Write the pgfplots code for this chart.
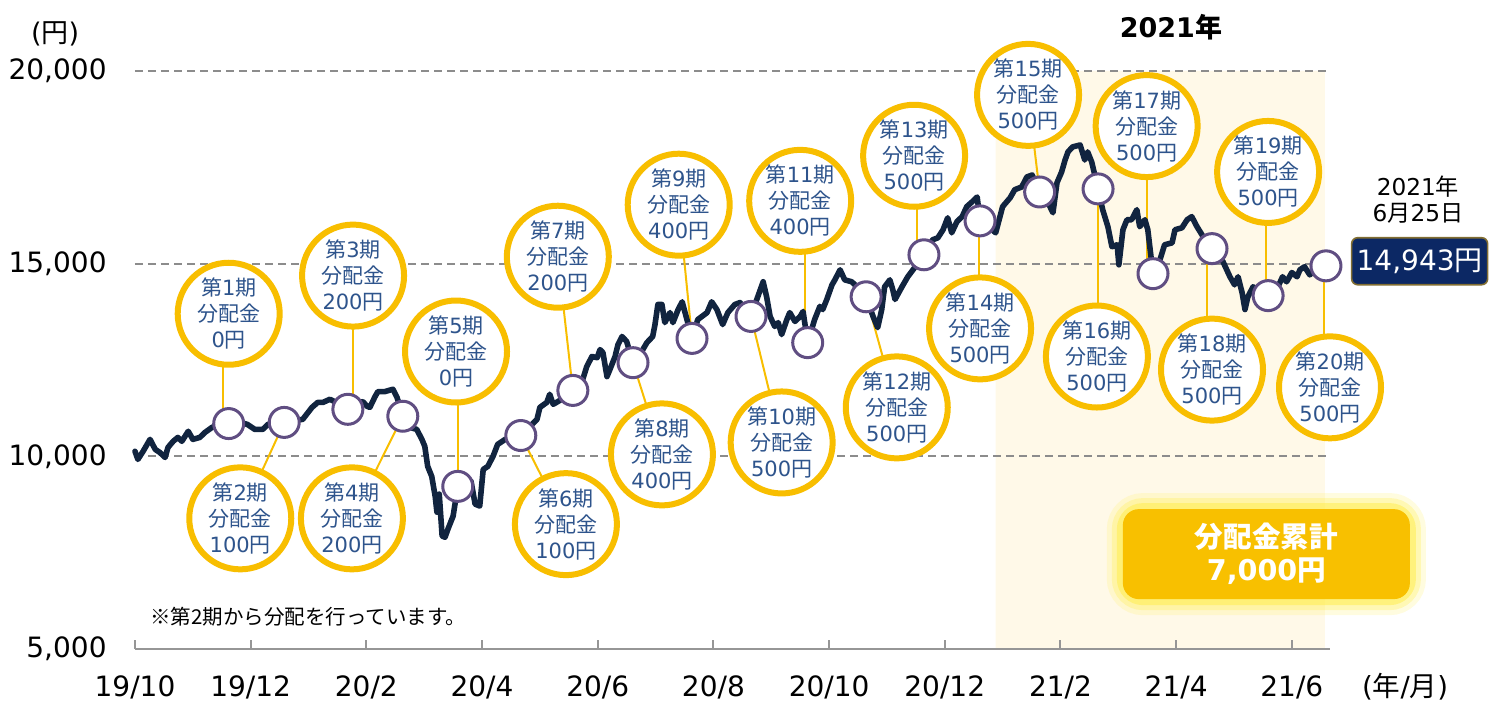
\documentclass[border=0pt]{standalone}
\usepackage{pgfplots}
\pgfplotsset{compat=1.18}
\usepackage{fontspec}
\setmainfont{DejaVu Sans}
\newfontfamily\jp{Noto Sans CJK JP}
\definecolor{navyline}{RGB}{17,36,63}
\definecolor{purp}{RGB}{96,78,130}
\definecolor{gold}{RGB}{248,190,0}
\definecolor{bubtext}{RGB}{46,84,140}
\definecolor{shade}{RGB}{255,249,232}
\definecolor{gridgray}{RGB}{140,140,140}
\definecolor{axisgray}{RGB}{150,150,150}
\definecolor{boxnavy}{RGB}{12,40,100}
\definecolor{boxedge}{RGB}{130,110,50}
\definecolor{glow}{RGB}{255,238,80}
\definecolor{sumbox}{RGB}{248,192,0}
\newcommand{\bub}[2]{{\jp 第}#1{\jp 期}\\{\jp 分配金}\\#2{\jp 円}}
\tikzset{bubble/.style={circle, draw=gold, line width=3pt, fill=white, minimum size=51pt, inner sep=0pt,
  text=bubtext, align=center, font=\fontsize{10.5}{13}\selectfont}}
\begin{document}
\begin{tikzpicture}
\begin{axis}[
 at={(0pt,0pt)}, anchor=south west,
 scale only axis, width=597.5pt, height=289pt,
 xmin=0, xmax=20.66, ymin=5000, ymax=20000,
 clip=false, set layers,
 scaled y ticks=false,
 axis lines*=left,
 y axis line style={draw=none},
 x axis line style={draw=axisgray, line width=1pt},
 tick align=inside, major tick length=4.5pt,
 xtick={0,2,...,20},
 xticklabels={19/10,19/12,20/2,20/4,20/6,20/8,20/10,20/12,21/2,21/4,21/6},
 ytick={5000,10000,15000,20000},
 yticklabels={{5,000},{10,000},{15,000},{20,000}},
 xtick style={draw=axisgray, line width=1pt},
 ytick style={draw=none},
 ymajorgrids,
 grid style={draw=gridgray, line width=1pt, dash pattern=on 4pt off 2.5pt},
 ticklabel style={font=\fontsize{14}{16}\selectfont, inner sep=0pt, text=black},
 xticklabel style={anchor=base, yshift=-24pt},
 yticklabel style={anchor=east, xshift=-14pt},
]
% 2021 shaded period
\addplot[fill=shade, draw=none, on layer=axis background] coordinates {(14.88,5000) (14.88,20000) (20.57,20000) (20.57,5000) (14.88,5000)};

% connectors
\addplot[gold, line width=1pt] coordinates {(1.52,13700) (1.52,10850)};
\addplot[gold, line width=1pt] coordinates {(1.82,8390) (2.58,10880)};
\addplot[gold, line width=1pt] coordinates {(3.77,14690) (3.77,11220)};
\addplot[gold, line width=1pt] coordinates {(3.75,8390) (4.63,11040)};
\addplot[gold, line width=1pt] coordinates {(5.58,12720) (5.58,9220)};
\addplot[gold, line width=1pt] coordinates {(7.45,8240) (6.67,10540)};
\addplot[gold, line width=1pt] coordinates {(7.31,15180) (7.57,11710)};
\addplot[gold, line width=1pt] coordinates {(9.11,10050) (8.61,12430)};
\addplot[gold, line width=1pt] coordinates {(9.40,16530) (9.63,13060)};
\addplot[gold, line width=1pt] coordinates {(11.18,10360) (10.65,13630)};
\addplot[gold, line width=1pt] coordinates {(11.58,16630) (11.58,12950)};
\addplot[gold, line width=1pt] coordinates {(13.17,11270) (12.64,14140)};
\addplot[gold, line width=1pt] coordinates {(13.52,17800) (13.52,15230)};
\addplot[gold, line width=1pt] coordinates {(14.59,13320) (14.59,16110)};
\addplot[gold, line width=1pt] coordinates {(15.44,19380) (15.64,16860)};
\addplot[gold, line width=1pt] coordinates {(16.65,12590) (16.65,16940)};
\addplot[gold, line width=1pt] coordinates {(17.49,18570) (17.49,14740)};
\addplot[gold, line width=1pt] coordinates {(18.53,12250) (18.53,15390)};
\addplot[gold, line width=1pt] coordinates {(19.55,17380) (19.55,14170)};
\addplot[gold, line width=1pt] coordinates {(20.55,11790) (20.55,14943)};

% NAV line
\addplot[navyline, line width=2.8pt, line join=round, line cap=round] coordinates {
(0.00,10130) (0.05,9920) (0.14,10130) (0.26,10440) (0.35,10180) (0.43,10100) (0.52,9970) (0.57,10230)
(0.66,10390) (0.74,10490) (0.81,10390) (0.92,10650) (1.00,10440) (1.12,10490) (1.21,10620) (1.33,10750)
(1.47,10830) (1.62,10850) (1.82,10880) (1.94,10830) (2.07,10700) (2.21,10700) (2.30,10830) (2.44,10880)
(2.58,10880) (2.77,10930) (2.90,10960) (3.06,11270) (3.16,11400) (3.25,11400) (3.37,11480) (3.54,11350)
(3.68,11220) (3.82,11370) (3.94,11420) (4.01,11300) (4.06,11270) (4.15,11550) (4.20,11680) (4.32,11680)
(4.46,11740) (4.53,11530) (4.63,11040) (4.75,10750) (4.87,10700) (4.96,10440) (5.01,10260) (5.06,9740)
(5.13,9480) (5.19,8960) (5.22,8550) (5.26,9020) (5.31,7930) (5.36,7900) (5.41,8110) (5.50,8450)
(5.58,9220) (5.70,9350) (5.81,9350) (5.88,8760) (5.96,8710) (6.02,9660) (6.10,9740) (6.19,10000)
(6.27,10310) (6.40,10440) (6.52,10440) (6.67,10540) (6.83,10780) (6.95,10960) (7.00,11270) (7.12,11400)
(7.17,11610) (7.23,11350) (7.31,11420) (7.43,11530) (7.57,11710) (7.74,11990) (7.81,12330) (7.90,12590)
(7.99,12560) (8.04,12770) (8.09,12690) (8.16,12070) (8.21,12250) (8.30,12590) (8.35,12900) (8.42,13110)
(8.50,12980) (8.61,12430) (8.76,12720) (8.85,12950) (8.95,13110) (8.99,13420) (9.04,13940) (9.11,13940)
(9.16,13470) (9.25,13730) (9.30,13470) (9.39,13810) (9.46,14010) (9.51,13730) (9.63,13060) (9.73,13550)
(9.89,13730) (9.97,14010) (10.06,13810) (10.16,13420) (10.25,13730) (10.37,13940) (10.46,13990) (10.54,13810)
(10.65,13630) (10.75,14070) (10.86,14530) (10.92,14140) (10.98,13630) (11.06,13370) (11.12,13470) (11.18,13160)
(11.27,13550) (11.32,13730) (11.41,13500) (11.50,13630) (11.55,13760) (11.63,12950) (11.75,13550) (11.84,13890)
(11.89,13810) (11.96,14070) (12.05,14450) (12.10,14580) (12.19,14840) (12.27,14580) (12.39,14530) (12.50,14380)
(12.64,14140) (12.76,13630) (12.84,13340) (12.91,13810) (12.96,14400) (13.05,14580) (13.10,14330) (13.14,14070)
(13.26,14400) (13.36,14660) (13.48,14900) (13.64,15230) (13.79,15620) (13.88,15670) (13.97,15880) (14.05,16190)
(14.12,15800) (14.21,16090) (14.30,16220) (14.38,16480) (14.47,16600) (14.56,16730) (14.61,16110) (14.78,15930)
(14.88,15800) (15.00,16480) (15.13,16710) (15.21,16920) (15.33,16990) (15.42,17250) (15.51,17300) (15.64,16860)
(15.76,16660) (15.87,16320) (15.94,17100) (16.02,17380) (16.08,17690) (16.13,17900) (16.21,18030) (16.34,18080)
(16.42,17690) (16.47,17900) (16.54,17640) (16.65,16940) (16.73,16400) (16.82,15960) (16.89,15440) (16.98,15490)
(17.01,14970) (17.08,15880) (17.15,16140) (17.23,16140) (17.32,16400) (17.37,15960) (17.46,16140) (17.51,15880)
(17.60,14740) (17.72,15100) (17.80,15490) (17.93,15540) (17.98,15880) (18.10,15930) (18.19,16140) (18.27,16220)
(18.36,15960) (18.50,15620) (18.62,15390) (18.81,15050) (18.93,14660) (19.01,14450) (19.07,14660) (19.14,14250)
(19.19,13810) (19.24,14140) (19.33,14400) (19.45,14270) (19.59,14170) (19.76,14400) (19.84,14660) (19.91,14530)
(20.00,14770) (20.09,14660) (20.14,14840) (20.22,14920) (20.31,14710) (20.45,14900) (20.59,14943)
};

% distribution dates
\addplot[only marks, mark=*, mark size=7.5pt, mark options={fill=white, draw=purp, line width=1.5pt}] coordinates {
(1.62,10850) (2.58,10880) (3.68,11220) (4.63,11040) (5.58,9220) (6.67,10540) (7.57,11710) (8.61,12430)
(9.63,13060) (10.65,13630) (11.63,12950) (12.64,14140) (13.64,15230) (14.61,16110) (15.64,16860) (16.65,16940)
(17.60,14740) (18.62,15390) (19.59,14170) (20.59,14943)};

% callout bubbles
\node[bubble] at (axis cs:1.62,13700) {\bub{1}{0}};
\node[bubble] at (axis cs:1.82,8390) {\bub{2}{100}};
\node[bubble] at (axis cs:3.77,14690) {\bub{3}{200}};
\node[bubble] at (axis cs:3.75,8390) {\bub{4}{200}};
\node[bubble] at (axis cs:5.55,12720) {\bub{5}{0}};
\node[bubble] at (axis cs:7.45,8240) {\bub{6}{100}};
\node[bubble] at (axis cs:7.31,15180) {\bub{7}{200}};
\node[bubble] at (axis cs:9.11,10050) {\bub{8}{400}};
\node[bubble] at (axis cs:9.40,16530) {\bub{9}{400}};
\node[bubble] at (axis cs:11.18,10360) {\bub{10}{500}};
\node[bubble] at (axis cs:11.50,16630) {\bub{11}{400}};
\node[bubble] at (axis cs:13.17,11270) {\bub{12}{500}};
\node[bubble] at (axis cs:13.47,17800) {\bub{13}{500}};
\node[bubble] at (axis cs:14.61,13320) {\bub{14}{500}};
\node[bubble] at (axis cs:15.44,19380) {\bub{15}{500}};
\node[bubble] at (axis cs:16.63,12590) {\bub{16}{500}};
\node[bubble] at (axis cs:17.49,18570) {\bub{17}{500}};
\node[bubble] at (axis cs:18.62,12250) {\bub{18}{500}};
\node[bubble] at (axis cs:19.59,17380) {\bub{19}{500}};
\node[bubble] at (axis cs:20.66,11790) {\bub{20}{500}};

% texts
\node[font=\fontsize{13.5}{16}\selectfont] at (axis cs:-1.38,20960) {({\jp 円})};
\node[font=\fontsize{13.8}{16}\selectfont, anchor=base] at (axis cs:21.96,3770) {({\jp 年}/{\jp 月})};
\node[font=\fontsize{13.5}{16}\selectfont\bfseries] at (axis cs:17.91,21137) {2021{\jp\bfseries 年}};
\node[font=\fontsize{11.6}{13}\selectfont, align=center] at (axis cs:22.18,16650) {2021{\jp 年}\\6{\jp 月}25{\jp 日}};
\node[fill=boxnavy, draw=boxedge, line width=0.8pt, rounded corners=3pt, minimum width=68pt, minimum height=23.5pt,
  inner sep=0pt, text=white, font=\fontsize{14}{16}\selectfont] at (axis cs:22.21,15063) {14,943{\jp 円}};
\node[font=\fontsize{10.25}{12}\selectfont, anchor=west] at (axis cs:0.14,5830) {\jp ※第2期から分配を行っています。};

% cumulative box with glow
\node[draw=glow, draw opacity=0.18, line width=16pt, rounded corners=10pt, minimum width=143.5pt, minimum height=45pt] at (axis cs:19.56,7462) {};
\node[draw=glow, draw opacity=0.3, line width=11pt, rounded corners=10pt, minimum width=143.5pt, minimum height=45pt] at (axis cs:19.56,7462) {};
\node[draw=glow, draw opacity=0.55, line width=6pt, rounded corners=10pt, minimum width=143.5pt, minimum height=45pt] at (axis cs:19.56,7462) {};
\node[fill=sumbox, rounded corners=8pt, minimum width=143.5pt, minimum height=45pt, inner sep=0pt, text=white,
  align=center, font=\fontsize{14.3}{16.5}\selectfont\bfseries] at (axis cs:19.56,7462)
  {{\jp\bfseries 分配金累計}\\7,000{\jp\bfseries 円}};
\end{axis}
\pgfresetboundingbox
\path[use as bounding box] (-67.5pt,-27.5pt) rectangle (677.5pt,324.5pt);
\end{tikzpicture}
\end{document}
